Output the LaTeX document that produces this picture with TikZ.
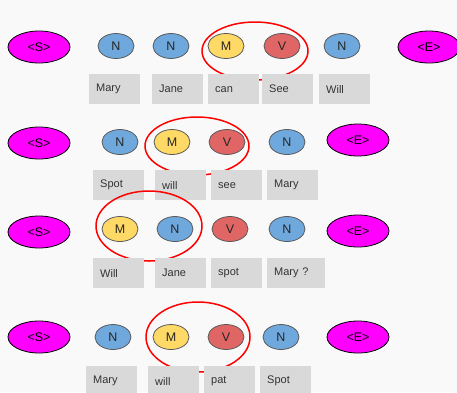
\documentclass[tikz,border=0pt]{standalone}
\usepackage{fontspec}
\setmainfont{Liberation Sans}
\usetikzlibrary{shapes.geometric}
\definecolor{pageBg}{HTML}{F9F9F9}
\definecolor{boxFill}{HTML}{D9D9D9}
\definecolor{nounBlue}{HTML}{6FA8DC}
\definecolor{modalYellow}{HTML}{FFD966}
\definecolor{verbRed}{HTML}{E06666}
\definecolor{endMagenta}{HTML}{FF00FF}
\definecolor{tagEdge}{HTML}{5A5A5A}
\definecolor{wordText}{HTML}{333333}
\tikzset{
  tag/.style={ellipse, draw=tagEdge, line width=0.8pt, minimum width=36pt,
    minimum height=25pt, inner sep=0pt, font=\fontsize{12.5}{12.5}\selectfont, text=black!85},
  nountag/.style={tag, fill=nounBlue},
  modaltag/.style={tag, fill=modalYellow},
  verbtag/.style={tag, fill=verbRed},
  endtag/.style={ellipse, draw=black, line width=0.8pt, fill=endMagenta,
    minimum width=62pt, minimum height=32pt, inner sep=0pt,
    font=\fontsize{12.5}{12.5}\selectfont},
  wordbox/.style={rectangle, fill=boxFill, anchor=north west, minimum height=30pt,
    text width=37pt, inner xsep=7pt, inner ysep=0pt, align=left,
    font=\fontsize{11}{11}\selectfont, text=wordText},
  widebox/.style={wordbox, text width=44pt},
  ring/.style={ellipse, draw=red, line width=1.5pt, inner sep=0pt}
}
\begin{document}
\begin{tikzpicture}[x=1pt,y=-1pt]
\fill[pageBg] (0,0) rectangle (457,392);
\useasboundingbox (0,0) rectangle (457,392);

% Mary Jane can See Will
\node[endtag] (s1) at (39,47) {<S>};
\node[nountag] (a1) at (116,46) {N};
\node[nountag] (b1) at (171,46) {N};
\node[modaltag] (c1) at (226,46) {M};
\node[verbtag] (d1) at (282,46) {V};
\node[nountag] (e1) at (342,46) {N};
\node[endtag] (t1) at (429,47) {<E>};
\node[ring, minimum width=106pt, minimum height=58pt] (r1) at (255,51) {};
\node[wordbox] (w11) at (89,74) {Mary};
\node[wordbox] (w12) at (152,74) {Jane};
\node[wordbox] (w13) at (208,74) {can};
\node[wordbox] (w14) at (262,74) {See};
\node[wordbox] (w15) at (319,74) {Will};

% Spot will see Mary
\node[endtag] (s2) at (39,143) {<S>};
\node[nountag] (a2) at (120,142) {N};
\node[modaltag] (b2) at (172,142) {M};
\node[verbtag] (c2) at (227,142) {V};
\node[nountag] (d2) at (287,142) {N};
\node[endtag] (t2) at (358,140) {<E>};
\node[ring, minimum width=104pt, minimum height=58pt] (r2) at (197,146) {};
\node[wordbox] (w21) at (93,170) {Spot};
\node[wordbox] (w22) at (155,170) {will};
\node[wordbox] (w23) at (211,170) {see};
\node[wordbox] (w24) at (267,170) {Mary};

% Will Jane spot Mary ?
\node[endtag] (s3) at (39,232) {<S>};
\node[modaltag] (a3) at (120,229) {M};
\node[nountag] (b3) at (175,229) {N};
\node[verbtag] (c3) at (230,229) {V};
\node[nountag] (d3) at (287,229) {N};
\node[endtag] (t3) at (358,231) {<E>};
\node[ring, minimum width=106pt, minimum height=70pt] (r3) at (149,226) {};
\node[wordbox] (w31) at (93,258) {Will};
\node[wordbox] (w32) at (155,258) {Jane};
\node[wordbox] (w33) at (211,258) {spot};
\node[widebox] (w34) at (267,258) {Mary ?};

% Mary will pat Spot
\node[endtag] (s4) at (39,337) {<S>};
\node[nountag] (a4) at (113,337) {N};
\node[modaltag] (b4) at (171,337) {M};
\node[verbtag] (c4) at (226,337) {V};
\node[nountag] (d4) at (281,337) {N};
\node[endtag] (t4) at (358,337) {<E>};
\node[ring, minimum width=104pt, minimum height=70pt] (r4) at (198,337) {};
\node[wordbox] (w41) at (86,366) {Mary};
\node[wordbox] (w42) at (148,366) {will};
\node[wordbox] (w43) at (204,366) {pat};
\node[wordbox] (w44) at (260,366) {Spot};
\end{tikzpicture}
\end{document}
